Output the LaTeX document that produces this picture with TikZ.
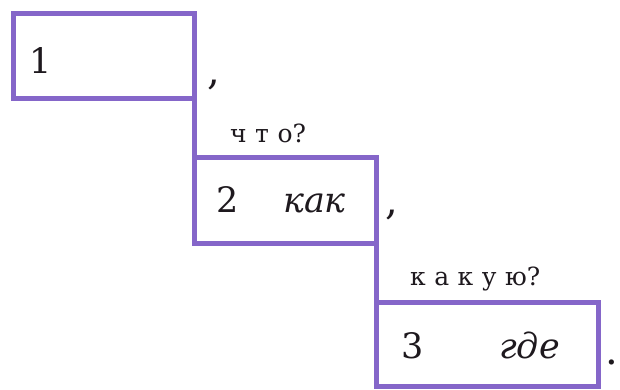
\documentclass[tikz,border=0pt]{standalone}
\usepackage{fontspec}
\setmainfont{DejaVu Serif}
\definecolor{boxpurple}{RGB}{133,102,201}
\definecolor{inkdark}{RGB}{30,25,30}
\newcommand{\lspa}{\hspace{8.5pt}}
\newcommand{\lspb}{\hspace{8.5pt}}
\begin{document}
\begin{tikzpicture}[x=1pt,y=-1pt,
  schemebox/.style={draw=boxpurple,line width=5pt,rectangle,inner sep=0pt,outer sep=0pt},
  linkline/.style={draw=boxpurple,line width=5pt},
  bigtxt/.style={inner sep=0pt,anchor=base west,text=inkdark,font=\fontsize{35}{37}\selectfont},
  punct/.style={inner sep=0pt,anchor=base west,text=inkdark,font=\fontsize{40}{42}\selectfont},
  smalltxt/.style={inner sep=0pt,anchor=base west,text=inkdark,font=\fontsize{25}{27}\selectfont}]
\fill[white] (0,0) rectangle (620,389);
\useasboundingbox (0,0) rectangle (620,389);
\node[schemebox,minimum width=181pt,minimum height=85pt] (b1) at (103.5,55.5) {};
\node[schemebox,minimum width=182pt,minimum height=86pt] (b2) at (285,200) {};
\node[schemebox,minimum width=222pt,minimum height=84pt] (b3) at (487,344) {};
\draw[linkline] (b1.north east) -- (b2.north west);
\draw[linkline] (b2.north east) -- (b3.north west);
\node[bigtxt] (t1) at (29,73) {1};
\node[punct] (c1) at (207,84) {,};
\node[smalltxt] (q1) at (230,142) {ч\lspa т\lspa о?};
\node[bigtxt] (t2) at (216,212) {2};
\node[bigtxt] (w2) at (283,212) {\itshape как};
\node[punct] (c2) at (385,214) {,};
\node[smalltxt] (q2) at (410,285) {к\lspb а\lspb к\lspb у\lspb ю?};
\node[bigtxt] (t3) at (401,358) {3};
\node[bigtxt] (w3) at (499,358) {\itshape где};
\node[punct] (p3) at (605,364) {.};
\end{tikzpicture}
\end{document}
